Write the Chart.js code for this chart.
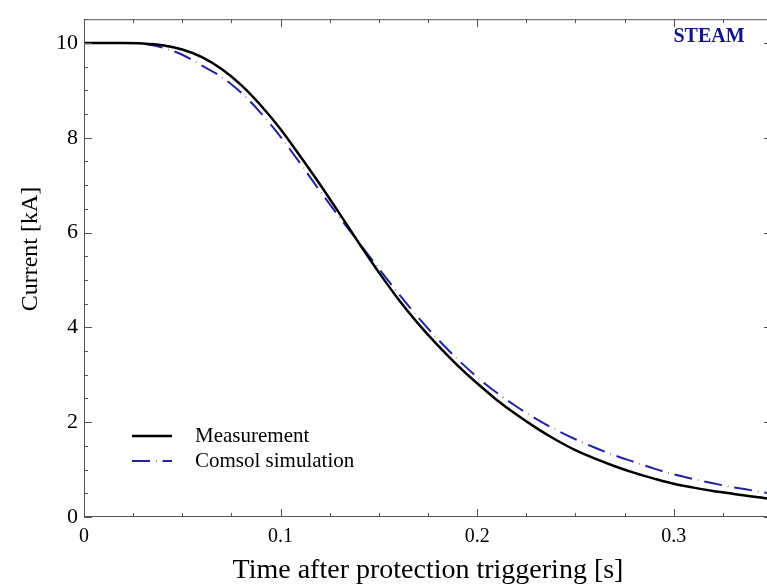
<!DOCTYPE html>
<html>
<head>
<meta charset="utf-8">
<script src="https://cdn.jsdelivr.net/npm/chart.js@4.4.1/dist/chart.umd.min.js"></script>
<style>
    html, body { margin: 0; padding: 0; overflow: hidden; background: #fff; }
    #graficoCorriente { display: block; }
</style>
</head>
<body>
<canvas id="graficoCorriente" width="780" height="588"></canvas>
<script>
// Datos (tiempo en s, corriente en kA)
const tiempos = [0, 0.01, 0.02, 0.03, 0.04, 0.05, 0.06, 0.07, 0.08, 0.09,
    0.10, 0.11, 0.12, 0.13, 0.14, 0.15, 0.16, 0.17, 0.18, 0.19,
    0.20, 0.21, 0.22, 0.23, 0.24, 0.25, 0.26, 0.27, 0.28, 0.29,
    0.30, 0.31, 0.32, 0.33, 0.34, 0.35];
const corrienteMedida = [10.0, 10.0, 10.0, 9.99, 9.95, 9.86, 9.70, 9.45, 9.11, 8.68,
    8.18, 7.61, 7.02, 6.40, 5.77, 5.16, 4.59, 4.08, 3.62, 3.20,
    2.82, 2.47, 2.16, 1.88, 1.63, 1.41, 1.23, 1.07, 0.93, 0.81,
    0.70, 0.62, 0.55, 0.49, 0.43, 0.38];
const corrienteComsol = [10.0, 10.0, 10.0, 9.98, 9.90, 9.75, 9.52, 9.28, 8.95, 8.52,
    8.02, 7.46, 6.88, 6.32, 5.78, 5.24, 4.71, 4.21, 3.75, 3.33,
    2.95, 2.62, 2.33, 2.07, 1.84, 1.64, 1.46, 1.30, 1.16, 1.02,
    0.90, 0.80, 0.71, 0.63, 0.56, 0.49];
const etiquetasSeries = ['Measurement', 'Comsol simulation'];
const etiquetasX = [0, 0.1, 0.2, 0.3];
const etiquetasY = [0, 2, 4, 6, 8, 10];

const fuente = '"Liberation Serif", "Times New Roman", serif';
const colorMarco = '#555';
const colorAzul = '#2323a0';

function esEtiqueta(valor, lista) {
    return lista.some(v => Math.abs(v - valor) < 1e-6);
}

// Marco completo con marcas hacia dentro (mayores y menores)
const marcasInternas = {
    id: 'marcasInternas',
    afterDraw(chart) {
        const { ctx, chartArea, scales } = chart;
        const { left, right, top, bottom } = chartArea;
        ctx.save();
        ctx.strokeStyle = colorMarco;
        ctx.lineWidth = 1;
        ctx.beginPath();
        ctx.rect(left + 0.5, top + 0.5, right - left - 1, bottom - top - 1);

        scales.x.ticks.forEach(t => {
            const px = Math.round(scales.x.getPixelForValue(t.value)) + 0.5;
            const largo = esEtiqueta(t.value, etiquetasX) ? 8 : 4;
            ctx.moveTo(px, bottom); ctx.lineTo(px, bottom - largo);
            ctx.moveTo(px, top); ctx.lineTo(px, top + largo);
        });
        scales.y.ticks.forEach(t => {
            const py = Math.round(scales.y.getPixelForValue(t.value)) + 0.5;
            const largo = esEtiqueta(t.value, etiquetasY) ? 8 : 4;
            ctx.moveTo(left, py); ctx.lineTo(left + largo, py);
            ctx.moveTo(right, py); ctx.lineTo(right - largo, py);
        });
        ctx.stroke();
        ctx.restore();
    }
};

// Titulo del eje Y, leyenda y marca STEAM
const textosExtra = {
    id: 'textosExtra',
    afterDraw(chart) {
        const { ctx } = chart;
        ctx.save();

        ctx.fillStyle = '#000';
        ctx.font = '24px ' + fuente;
        ctx.textAlign = 'center';
        ctx.textBaseline = 'middle';
        ctx.translate(31, 249);
        ctx.rotate(-Math.PI / 2);
        ctx.fillText('Current [kA]', 0, 0);
        ctx.setTransform(1, 0, 0, 1, 0, 0);

        const filasLeyenda = [436, 461];
        chart.data.datasets.forEach((ds, i) => {
            const y = filasLeyenda[i];
            ctx.beginPath();
            ctx.strokeStyle = ds.borderColor;
            ctx.lineWidth = ds.borderWidth;
            ctx.setLineDash(ds.borderDash || []);
            ctx.moveTo(132, y);
            ctx.lineTo(172, y);
            ctx.stroke();
            ctx.setLineDash([]);
            ctx.fillStyle = '#000';
            ctx.font = '21px ' + fuente;
            ctx.textAlign = 'left';
            ctx.fillText(ds.label, 195, y);
        });

        ctx.fillStyle = '#12128a';
        ctx.font = 'bold 20px ' + fuente;
        ctx.textAlign = 'center';
        ctx.fillText('STEAM', 709, 37);
        ctx.restore();
    }
};

const ctxCorriente = document.getElementById('graficoCorriente').getContext('2d');
const graficoCorriente = new Chart(ctxCorriente, {
    type: 'line',
    data: {
        datasets: [{
            label: etiquetasSeries[0],
            data: tiempos.map((t, i) => ({ x: t, y: corrienteMedida[i] })),
            borderColor: '#000',
            borderWidth: 2.5,
            pointRadius: 0,
            cubicInterpolationMode: 'monotone'
        }, {
            label: etiquetasSeries[1],
            data: tiempos.map((t, i) => ({ x: t, y: corrienteComsol[i] })),
            borderColor: colorAzul,
            borderWidth: 2,
            borderDash: [18, 6, 0.5, 6],
            pointRadius: 0,
            cubicInterpolationMode: 'monotone'
        }]
    },
    options: {
        responsive: false,
        animation: false,
        devicePixelRatio: 1,
        layout: { padding: { top: 9, right: 8, left: 0, bottom: 0 } },
        plugins: {
            legend: { display: false },
            tooltip: { enabled: false }
        },
        scales: {
            x: {
                type: 'linear',
                min: 0,
                max: 0.35,
                grid: { display: false, drawTicks: false },
                border: { display: false },
                ticks: {
                    stepSize: 0.025,
                    autoSkip: false,
                    maxRotation: 0,
                    padding: 8,
                    color: '#000',
                    font: { family: fuente, size: 20 },
                    callback: function (valor) {
                        return esEtiqueta(valor, etiquetasX) ? String(Math.round(valor * 10) / 10) : '';
                    }
                },
                title: {
                    display: true,
                    text: 'Time after protection triggering [s]',
                    color: '#000',
                    font: { family: fuente, size: 28 },
                    padding: { top: 0, bottom: 1 }
                },
                afterFit: function (escala) { escala.height = 71; }
            },
            y: {
                min: 0,
                max: 10.5,
                grid: { display: false, drawTicks: false },
                border: { display: false },
                ticks: {
                    stepSize: 0.5,
                    autoSkip: false,
                    padding: 6,
                    color: '#000',
                    font: { family: fuente, size: 22 },
                    callback: function (valor) {
                        return esEtiqueta(valor, etiquetasY) ? String(Math.round(valor)) : '';
                    }
                },
                afterFit: function (escala) { escala.width = 84; }
            }
        }
    },
    plugins: [marcasInternas, textosExtra]
});
</script>
</body>
</html>
